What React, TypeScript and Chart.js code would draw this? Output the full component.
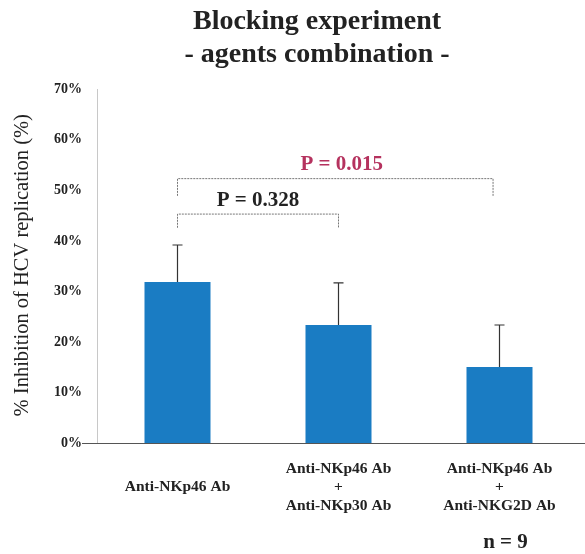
import React, { useEffect, useRef } from "react";
import { Chart, registerables } from "chart.js";

Chart.register(...registerables);

const categories: (string | string[])[] = [
  ["", "Anti-NKp46 Ab", ""],
  ["Anti-NKp46 Ab", "+", "Anti-NKp30 Ab"],
  ["Anti-NKp46 Ab", "+", "Anti-NKG2D Ab"],
];
const meanValues = [31.9, 23.4, 15.1];
const errorValues = [7.3, 8.3, 8.3];
const yTicks = [0, 10, 20, 30, 40, 50, 60, 70];

// significance brackets
const bracketFrom = [0, 0];
const bracketTo = [1, 1.96];
const bracketTop = [45.3, 52.3];
const bracketLeg = [42.6, 48.9];
const bracketLabels = ["P = 0.328", "P = 0.015"];
const bracketColors = ["#222222", "#b5325e"];
const bracketTextX = [0.5, 1.02];

const titleLines = ["Blocking experiment", "- agents combination -"];
const yAxisTitle = "% Inhibition of HCV replication (%)";
const footNote = "n = 9";

const SERIF = "'Liberation Serif', 'Times New Roman', serif";

const overlayPlugin = {
  id: "overlay",
  afterDatasetsDraw(chart: any) {
    const ctx = chart.ctx;
    const x = chart.scales.x;
    const y = chart.scales.y;
    const area = chart.chartArea;
    ctx.save();
    // x axis line
    ctx.strokeStyle = "#555";
    ctx.lineWidth = 1.2;
    ctx.beginPath();
    ctx.moveTo(area.left - 15, y.getPixelForValue(0));
    ctx.lineTo(chart.width, y.getPixelForValue(0));
    ctx.stroke();
    // error bars
    ctx.strokeStyle = "#333";
    ctx.lineWidth = 1.2;
    meanValues.forEach((v, i) => {
      const px = x.getPixelForValue(i);
      const y0 = y.getPixelForValue(v);
      const y1 = y.getPixelForValue(v + errorValues[i]);
      ctx.beginPath();
      ctx.moveTo(px, y0);
      ctx.lineTo(px, y1);
      ctx.moveTo(px - 5, y1);
      ctx.lineTo(px + 5, y1);
      ctx.stroke();
    });
    // brackets
    ctx.setLineDash([2, 1]);
    ctx.strokeStyle = "#777";
    ctx.lineWidth = 1;
    bracketFrom.forEach((f, i) => {
      const xa = x.getPixelForValue(f);
      const xb = x.getPixelForValue(bracketTo[i]);
      const yt = y.getPixelForValue(bracketTop[i]);
      const yl = y.getPixelForValue(bracketLeg[i]);
      ctx.beginPath();
      ctx.moveTo(xa, yl);
      ctx.lineTo(xa, yt);
      ctx.lineTo(xb, yt);
      ctx.lineTo(xb, yl);
      ctx.stroke();
    });
    ctx.setLineDash([]);
    ctx.font = `bold 21px ${SERIF}`;
    ctx.textAlign = "center";
    ctx.textBaseline = "middle";
    bracketLabels.forEach((t, i) => {
      ctx.fillStyle = bracketColors[i];
      const tx = x.getPixelForValue(bracketTextX[i]);
      const ty = y.getPixelForValue(bracketTop[i]) - 14;
      ctx.fillText(t, tx, ty);
    });
    // title
    ctx.fillStyle = "#222";
    ctx.font = `bold 28px ${SERIF}`;
    ctx.fillText(titleLines[0], 317, 22);
    ctx.fillText(titleLines[1], 317, 55);
    // y axis title
    ctx.save();
    ctx.translate(23, (area.top + area.bottom) / 2 - 1);
    ctx.rotate(-Math.PI / 2);
    ctx.font = `20.5px ${SERIF}`;
    ctx.fillStyle = "#222";
    ctx.fillText(yAxisTitle, 0, 0);
    ctx.restore();
    // footnote
    ctx.font = `bold 21px ${SERIF}`;
    ctx.fillStyle = "#222";
    ctx.fillText(footNote, x.getPixelForValue(2) + 6, 543);
    ctx.restore();
  },
};

export default function App() {
  const ref = useRef<HTMLCanvasElement>(null);
  useEffect(() => {
    if (!ref.current) return;
    const chart = new Chart(ref.current, {
      type: "bar",
      data: {
        labels: categories,
        datasets: [
          {
            data: meanValues,
            backgroundColor: "#1a7cc3",
            borderWidth: 0,
            barPercentage: 0.41,
            categoryPercentage: 1,
          },
        ],
      },
      options: {
        animation: false,
        responsive: false,
        devicePixelRatio: 1,
        layout: { padding: { left: 0, right: 5, top: 89, bottom: 0 } },
        plugins: {
          legend: { display: false },
          title: { display: false },
          tooltip: { enabled: false },
        },
        scales: {
          x: {
            offset: true,
            grid: { display: false, drawTicks: false },
            border: { display: false },
            ticks: {
              color: "#222",
              padding: 16,
              maxRotation: 0,
              autoSkip: false,
              font: { family: SERIF, size: 15.5, weight: "bold", lineHeight: 1.2 },
            },
            afterFit: (s: any) => {
              s.height = 110.5;
            },
          },
          y: {
            min: 0,
            max: 70,
            afterBuildTicks: (s: any) => {
              s.ticks = yTicks.map((v) => ({ value: v }));
            },
            grid: { display: false, drawTicks: false },
            border: { display: true, color: "#c8c8c8", dash: [1, 2], width: 1 },
            ticks: {
              color: "#222",
              padding: 15,
              callback: (v: any) => `${v}%`,
              font: { family: SERIF, size: 14, weight: "bold" },
            },
            afterFit: (s: any) => {
              s.width = 97;
            },
          },
        },
      },
      plugins: [overlayPlugin],
    });
    return () => chart.destroy();
  }, []);
  return (
    <div style={{ position: "fixed", left: 0, top: 0, width: 585, height: 554, background: "#fff" }}>
      <canvas ref={ref} width={585} height={554} />
    </div>
  );
}
